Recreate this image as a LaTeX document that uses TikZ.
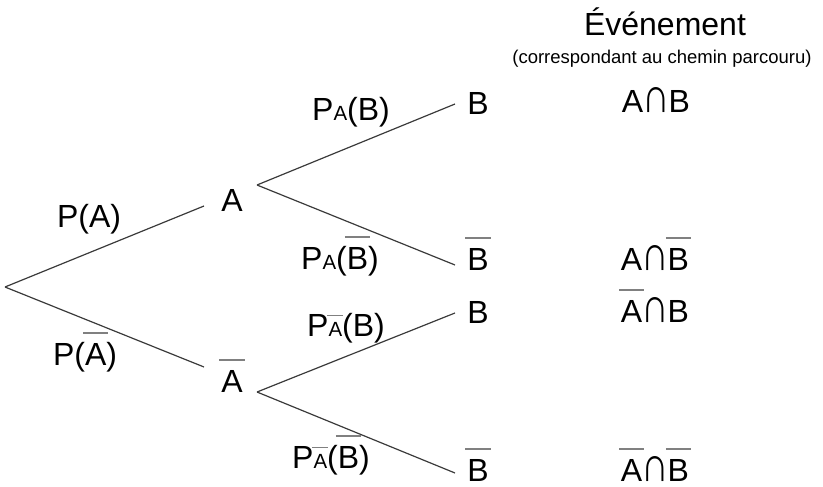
\documentclass[tikz,border=0pt]{standalone}
\usepackage{fontspec}
\setmainfont{Liberation Sans}
\definecolor{barcol}{HTML}{808080}
\definecolor{linecol}{HTML}{3A3A3A}
\newcommand\ob[1]{\setbox0\hbox{#1}\rlap{\kern-0.06em\color{barcol}\raisebox{0.97em}{\rule{\dimexpr\wd0+0.12em\relax}{0.065em}}}\box0}
\newcommand\sub[1]{{\fontsize{20.5}{21}\selectfont #1}}
\newcommand\inter{\kern-0.04em\scalebox{1.2}[1.55]{∩}\kern-0.03em}
\begin{document}
\begin{tikzpicture}[x=1pt,y=-1pt,
  lbl/.style={inner sep=0pt, anchor=base, text depth=0pt, font=\fontsize{32}{38}\selectfont},
  small/.style={inner sep=0pt, anchor=base, font=\fontsize{18.5}{22}\selectfont},
  branch/.style={draw=linecol, line width=1.2pt}]
\useasboundingbox (0,0) rectangle (823,487);
% connector end points
\coordinate (O) at (5,287);
\coordinate (Ain) at (204,206);
\coordinate (Abin) at (204,367);
\coordinate (Aout) at (257,185);
\coordinate (About) at (257,392);
\coordinate (B1in) at (455,104);
\coordinate (B2in) at (455,265);
\coordinate (B3in) at (455,313);
\coordinate (B4in) at (455,473);
% branches
\draw[branch] (O) -- (Ain);
\draw[branch] (O) -- (Abin);
\draw[branch] (Aout) -- (B1in);
\draw[branch] (Aout) -- (B2in);
\draw[branch] (About) -- (B3in);
\draw[branch] (About) -- (B4in);
% vertices
\node[lbl] (A) at (232,211) {A};
\node[lbl] (Ab) at (232,392) {\ob{A}};
\node[lbl] (B1) at (478,115) {B};
\node[lbl] (B2) at (478,270) {\ob{B}};
\node[lbl] (B3) at (478,323) {B};
\node[lbl] (B4) at (478,481) {\ob{B}};
% branch labels
\node[lbl] (pA) at (89,227) {P(A)};
\node[lbl] (pAb) at (85,365) {P(\ob{A})};
\node[lbl] (pAB) at (351,121) {P\sub{A}(B)};
\node[lbl] (pABb) at (340,269) {P\sub{A}(\ob{B})};
\node[lbl] (pAbB) at (346,336) {P\sub{\ob{A}}(B)};
\node[lbl] (pAbBb) at (331,468) {P\sub{\ob{A}}(\ob{B})};
% events column
\node[lbl] (ev) at (665,36) {Événement};
\node[small] (evsub) at (662,64) {(correspondant au chemin parcouru)};
\node[lbl] (e1) at (656,113) {A\inter B};
\node[lbl] (e2) at (655,270) {A\inter\ob{B}};
\node[lbl] (e3) at (655,322) {\ob{A}\inter B};
\node[lbl] (e4) at (655,481) {\ob{A}\inter\ob{B}};
\end{tikzpicture}
\end{document}
